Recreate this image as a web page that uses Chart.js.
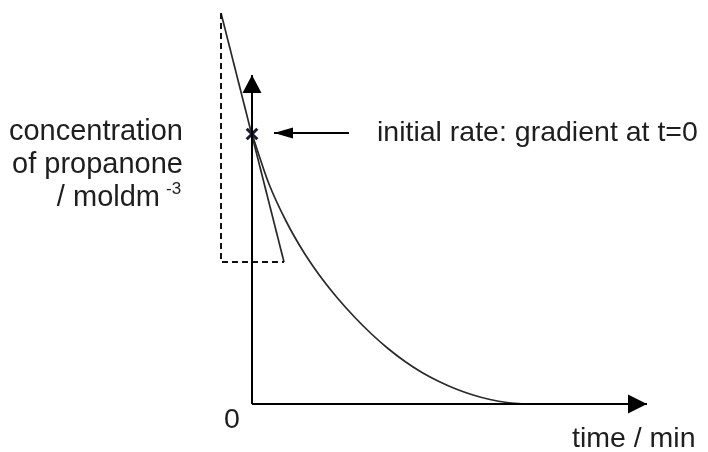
<!DOCTYPE html>
<html>
<head>
<meta charset="utf-8">
<script src="https://cdn.jsdelivr.net/npm/chart.js@4/dist/chart.umd.min.js"></script>
<style>
  html, body { margin: 0; padding: 0; background: #fff; }
  #wrap { width: 708px; height: 452px; }
</style>
</head>
<body>
<div id="wrap"><canvas id="rateCanvas" width="708" height="452"></canvas></div>
<script>
// concentration of propanone against time (arbitrary units, origin at 0,0)
const curveTime = [0, 17, 34, 51, 68, 85, 102, 119, 136, 153, 170, 187, 204, 221, 238, 255, 272];
const curveConc = [270, 220, 183, 153, 128, 106.5, 87.5, 70.5, 55.5, 42.5, 31.5, 22.5, 15, 9, 4.5, 1.5, 0];

// tangent drawn at t = 0 and its dashed gradient triangle
const tangentTime = [-31, 32];
const tangentConc = [391, 142];
const guideTime = [-31, -31, 32];
const guideConc = [391, 142, 142];

// the point at t = 0 and the pointer arrow aimed at it
const markerTime = [0];
const markerConc = [270];
const pointerTime = [97, 22];
const pointerConc = [271, 271];

// axes (drawn as lines ending in arrowheads)
const yAxisTime = [0, 0];
const yAxisConc = [0, 329];
const xAxisTime = [0, 395];
const xAxisConc = [0, 0];

const toPoints = (xs, ys) => xs.map((x, i) => ({ x: x, y: ys[i] }));

const ink = '#1e1e1e';
const font = '"Liberation Sans", Arial, sans-serif';

// arrowheads at the ends of the axes and the pointer, plus the text labels
const decorations = {
    id: 'decorations',
    afterDatasetsDraw(chart) {
        const ctx = chart.ctx;
        const xs = chart.scales.x;
        const ys = chart.scales.y;

        function head(fromX, fromY, toX, toY, len, half) {
            const x1 = xs.getPixelForValue(fromX), y1 = ys.getPixelForValue(fromY);
            const x2 = xs.getPixelForValue(toX), y2 = ys.getPixelForValue(toY);
            const a = Math.atan2(y2 - y1, x2 - x1);
            ctx.save();
            ctx.fillStyle = '#000';
            ctx.beginPath();
            ctx.moveTo(x2, y2);
            ctx.lineTo(x2 - len * Math.cos(a) + half * Math.sin(a), y2 - len * Math.sin(a) - half * Math.cos(a));
            ctx.lineTo(x2 - len * Math.cos(a) - half * Math.sin(a), y2 - len * Math.sin(a) + half * Math.cos(a));
            ctx.closePath();
            ctx.fill();
            ctx.restore();
        }

        head(yAxisTime[0], yAxisConc[0], yAxisTime[1], yAxisConc[1], 18, 9.5);
        head(xAxisTime[0], xAxisConc[0], xAxisTime[1], xAxisConc[1], 19, 9.5);
        head(pointerTime[0], pointerConc[0], pointerTime[1], pointerConc[1], 19, 5.5);

        ctx.save();
        ctx.fillStyle = ink;
        ctx.font = '29px ' + font;
        ctx.textBaseline = 'alphabetic';

        ctx.textAlign = 'right';
        ctx.fillText('concentration', 183, 140);
        ctx.fillText('of propanone', 183, 173);
        ctx.fillText('/ moldm', 160, 206);
        ctx.font = '17px ' + font;
        ctx.textAlign = 'left';
        ctx.fillText('-3', 166, 194);

        ctx.font = '28.5px ' + font;
        ctx.fillText('initial rate: gradient at t=0', 377, 141);
        ctx.fillText('time / min', 572, 447);
        ctx.textAlign = 'center';
        ctx.fillText('0', 232, 428);
        ctx.restore();
    }
};

new Chart(document.getElementById('rateCanvas'), {
    type: 'scatter',
    data: {
        datasets: [
            {
                label: 'y axis',
                data: toPoints(yAxisTime, yAxisConc),
                showLine: true,
                borderColor: '#000',
                borderWidth: 2,
                pointRadius: 0
            },
            {
                label: 'x axis',
                data: toPoints(xAxisTime, xAxisConc),
                showLine: true,
                borderColor: '#000',
                borderWidth: 2,
                pointRadius: 0
            },
            {
                label: 'gradient triangle',
                data: toPoints(guideTime, guideConc),
                showLine: true,
                borderColor: '#111',
                borderWidth: 2,
                borderDash: [6, 4],
                pointRadius: 0
            },
            {
                label: 'tangent',
                data: toPoints(tangentTime, tangentConc),
                showLine: true,
                borderColor: '#2a2a2a',
                borderWidth: 1.7,
                pointRadius: 0
            },
            {
                label: 'concentration of propanone',
                data: toPoints(curveTime, curveConc),
                showLine: true,
                cubicInterpolationMode: 'monotone',
                borderColor: '#2a2a2a',
                borderWidth: 1.7,
                pointRadius: 0
            },
            {
                label: 'pointer',
                data: toPoints(pointerTime, pointerConc),
                showLine: true,
                borderColor: '#000',
                borderWidth: 2,
                pointRadius: 0
            },
            {
                label: 't = 0',
                data: toPoints(markerTime, markerConc),
                pointStyle: 'crossRot',
                pointRadius: 7.5,
                pointBorderWidth: 3,
                pointBorderColor: '#1a1a30'
            }
        ]
    },
    options: {
        responsive: false,
        animation: false,
        layout: { padding: 0, autoPadding: false },
        scales: {
            x: { type: 'linear', min: -252, max: 456, display: false },
            y: { type: 'linear', min: -48, max: 404, display: false }
        },
        plugins: {
            legend: { display: false },
            tooltip: { enabled: false }
        }
    },
    plugins: [decorations]
});
</script>
</body>
</html>
